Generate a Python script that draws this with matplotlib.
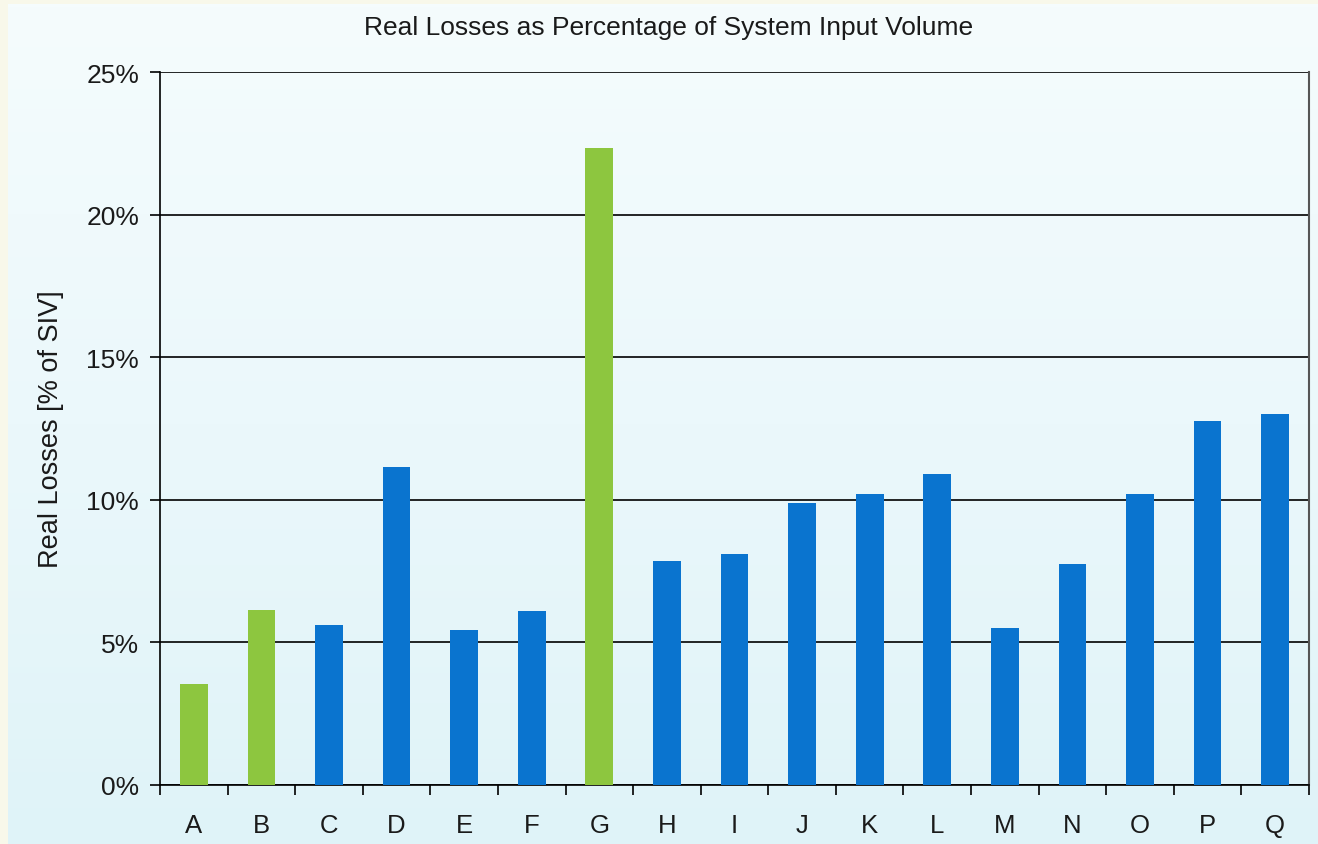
import matplotlib
matplotlib.use("Agg")
import matplotlib.pyplot as plt
import numpy as np
from matplotlib.ticker import FuncFormatter, FixedLocator
from matplotlib.colors import LinearSegmentedColormap

plt.rcParams["font.family"] = ["Liberation Sans", "DejaVu Sans"]

categories = ["A", "B", "C", "D", "E", "F", "G", "H", "I", "J", "K", "L", "M", "N", "O", "P", "Q"]
values = [3.55, 6.15, 5.6, 11.15, 5.45, 6.1, 22.35, 7.85, 8.1, 9.9, 10.2, 10.9, 5.5, 7.75, 10.2, 12.75, 13.0]
highlight = ["A", "B", "G"]
yticks = [0, 5, 10, 15, 20, 25]

W, H = 1318, 845
fig = plt.figure(figsize=(W / 100, H / 100), dpi=100)
fig.patch.set_facecolor("#f8f8ea")

# gradient background panel
bg = fig.add_axes([8 / W, 0, 1 - 8 / W, 1 - 5 / H], zorder=0)
grad = np.linspace(0, 1, 256).reshape(-1, 1)
cmap = LinearSegmentedColormap.from_list("bg", ["#f5fcfd", "#ebf8fb", "#dff3f8"])
bg.imshow(grad, aspect="auto", cmap=cmap, extent=[0, 1, 0, 1], origin="upper")
bg.set_axis_off()

ax = fig.add_axes([160 / W, (H - 786) / H, (1309 - 160) / W, (786 - 73) / H], zorder=1)
ax.patch.set_alpha(0)

x = np.arange(len(categories))
colors = ["#8dc63f" if c in highlight else "#0a74cf" for c in categories]
ax.bar(x, values, width=0.41, color=colors, zorder=3)

ax.set_xlim(-0.5, len(categories) - 0.5)
ax.set_ylim(0, 25)
ax.set_yticks(yticks)
ax.yaxis.set_major_formatter(FuncFormatter(lambda v, p: f"{v:.0f}%"))
ax.yaxis.grid(True, color="black", linewidth=1.2, zorder=1)
ax.set_axisbelow(True)

ax.set_xticks(x)
ax.set_xticklabels(categories)
ax.xaxis.set_minor_locator(FixedLocator(np.arange(-0.5, len(categories), 1)))
ax.tick_params(axis="x", which="major", length=0, labelsize=18.5, pad=20, labelcolor="#1a1a1a")
ax.tick_params(axis="x", which="minor", length=7, width=1.2, direction="out", color="black")
ax.tick_params(axis="y", length=7, width=1.2, labelsize=19, pad=8, labelcolor="#1a1a1a", color="black")

for s in ["left", "bottom"]:
    ax.spines[s].set_color("black")
    ax.spines[s].set_linewidth(1.2)
ax.spines["top"].set_visible(False)
ax.spines["right"].set_color("#555555")
ax.spines["right"].set_linewidth(1.5)

ax.set_ylabel("Real Losses [% of SIV]", fontsize=19.5, color="#1a1a1a")
ax.yaxis.set_label_coords((64 - 160) / (1309 - 160), 0.5)
fig.text(669 / W, 1 - 28 / H, "Real Losses as Percentage of System Input Volume",
         ha="center", va="center", fontsize=19, color="#1a1a1a")

fig.savefig("out.png", dpi=100, facecolor=fig.get_facecolor())
